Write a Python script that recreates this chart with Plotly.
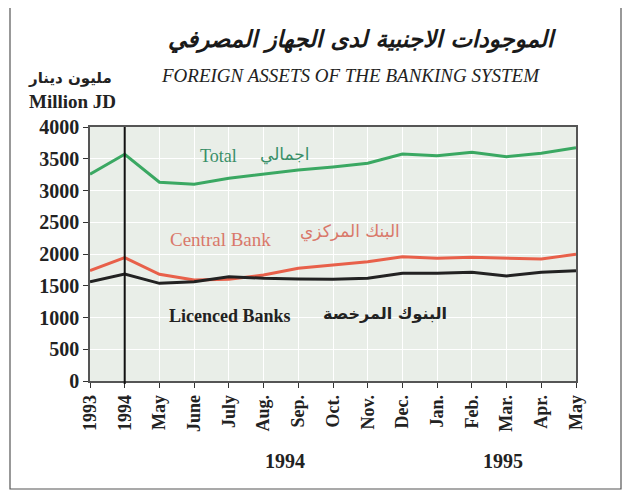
import plotly.graph_objects as go

# ---- data ----
categories = ["1993", "1994", "May", "June", "July", "Aug.", "Sep.", "Oct.",
              "Nov.", "Dec.", "Jan.", "Feb.", "Mar.", "Apr.", "May"]
total = [3255, 3570, 3130, 3097, 3192, 3255, 3323, 3370, 3428, 3575, 3548, 3601, 3533, 3585, 3675]
central_bank = [1737, 1942, 1680, 1590, 1601, 1669, 1774, 1832, 1879, 1958, 1932, 1948, 1932, 1921, 1995]
licenced_banks = [1564, 1685, 1538, 1564, 1643, 1617, 1606, 1601, 1617, 1696, 1696, 1712, 1654, 1712, 1737]
y_ticks = [0, 500, 1000, 1500, 2000, 2500, 3000, 3500, 4000]
year_labels = ["1994", "1995"]

# page body has an 8px margin; work in window coordinates and offset
OX, OY = 8, 8
WIN_W, WIN_H = 630, 495
W, H = WIN_W - OX, WIN_H - OY
PL, PR, PT, PB = 90, 576, 127, 381          # plot area in window px
L, R, T, B = PL - OX, WIN_W - PR, PT - OY, WIN_H - PB
pw, ph = PR - PL, PB - PT

def px(x):
    return (x - PL) / pw

def py(y):
    return (PB - y) / ph

SERIF = "Liberation Serif, Times New Roman, serif"
ARAB = "DejaVu Sans, sans-serif"

xs = list(range(len(categories)))

fig = go.Figure()
fig.add_trace(go.Scatter(x=xs, y=total, mode="lines",
                         line=dict(color="#3aa862", width=3), showlegend=False))
fig.add_trace(go.Scatter(x=xs, y=central_bank, mode="lines",
                         line=dict(color="#e8604a", width=3), showlegend=False))
fig.add_trace(go.Scatter(x=xs, y=licenced_banks, mode="lines",
                         line=dict(color="#222222", width=3), showlegend=False))

fig.update_layout(
    width=W, height=H,
    margin=dict(l=L, r=R, t=T, b=B, autoexpand=False),
    paper_bgcolor="white",
    plot_bgcolor="#e9eee8",
    font=dict(family=SERIF, color="#222"),
    xaxis=dict(
        range=[0, len(categories) - 1],
        tickmode="array", tickvals=xs, ticktext=categories,
        tickangle=-90,
        tickfont=dict(family=SERIF, size=18, color="#222", weight="bold"),
        ticks="outside", ticklen=5, tickcolor="#333",
        showgrid=True, gridcolor="white", gridwidth=1,
        showline=True, linecolor="#555", linewidth=1.5, mirror=True,
        zeroline=False, automargin=False,
    ),
    yaxis=dict(
        range=[0, 4000],
        tickmode="array", tickvals=y_ticks,
        tickfont=dict(family=SERIF, size=20, color="#222", weight="bold"),
        ticks="outside", ticklen=5, tickcolor="#333",
        showgrid=True, gridcolor="white", gridwidth=1,
        showline=True, linecolor="#555", linewidth=1.5, mirror=True,
        zeroline=False, automargin=False,
    ),
)

# vertical marker line at 1994
fig.add_shape(type="line", xref="x", yref="paper", x0=1, x1=1, y0=-0.012, y1=1,
              line=dict(color="#111", width=2))

# outer frame
fig.add_shape(type="rect", xref="paper", yref="paper",
              x0=px(10), x1=px(621), y0=py(489), y1=py(6),
              line=dict(color="#555", width=1.2))

ann = []
ann.append(dict(text="<b><i>الموجودات الاجنبية لدى الجهاز المصرفي</i></b>",
                x=px(362), y=py(40), font=dict(family=ARAB, size=23, color="#1a1a1a")))
ann.append(dict(text="<i>FOREIGN ASSETS OF THE BANKING SYSTEM</i>",
                x=px(350), y=py(76), font=dict(family=SERIF, size=19, color="#222")))
ann.append(dict(text="<b>مليون دينار</b>",
                x=px(70), y=py(78), font=dict(family=ARAB, size=15, color="#222")))
ann.append(dict(text="<b>Million JD</b>",
                x=px(72), y=py(102), font=dict(family=SERIF, size=19, color="#222")))
ann.append(dict(text="<b>" + year_labels[0] + "</b>",
                x=px(285), y=py(461), font=dict(family=SERIF, size=20, color="#222")))
ann.append(dict(text="<b>" + year_labels[1] + "</b>",
                x=px(503), y=py(461), font=dict(family=SERIF, size=20, color="#222")))
# series labels in the plot
ann.append(dict(text="Total", x=px(218), y=py(156),
                font=dict(family=SERIF, size=18, color="#3a8f68")))
ann.append(dict(text="اجمالي", x=px(285), y=py(154),
                font=dict(family=ARAB, size=17, color="#3a8f68")))
ann.append(dict(text="Central Bank", x=px(220), y=py(239),
                font=dict(family=SERIF, size=19, color="#d9786a")))
ann.append(dict(text="البنك المركزي", x=px(350), y=py(231),
                font=dict(family=ARAB, size=17, color="#d9786a")))
ann.append(dict(text="<b>Licenced Banks</b>", x=px(230), y=py(316),
                font=dict(family=SERIF, size=18, color="#222")))
ann.append(dict(text="<b>البنوك المرخصة</b>", x=px(385), y=py(313),
                font=dict(family=ARAB, size=16, color="#222")))

for a in ann:
    a.update(xref="paper", yref="paper", showarrow=False,
             xanchor="center", yanchor="middle")
fig.update_layout(annotations=ann)

fig.write_html("out.html")
